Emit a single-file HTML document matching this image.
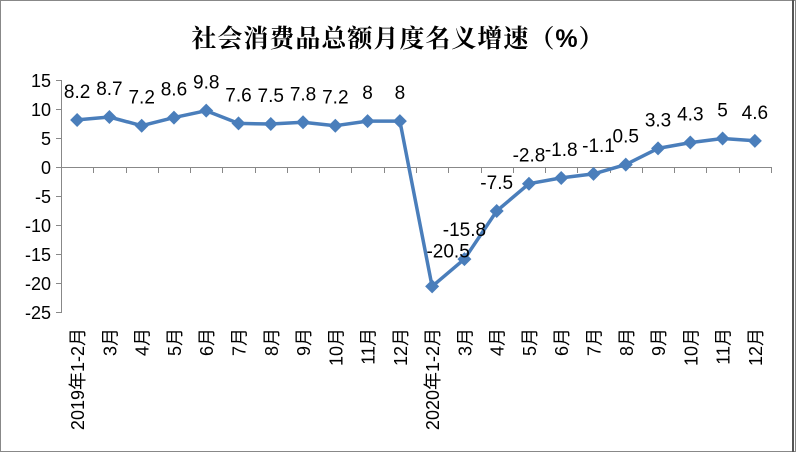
<!DOCTYPE html>
<html><head><meta charset="utf-8"><style>
html,body{margin:0;padding:0;background:#fff}
svg{display:block}
text{font-family:"Liberation Sans","Noto Sans CJK SC",sans-serif;fill:#000}
</style></head><body>
<svg width="796" height="452" viewBox="0 0 796 452" xmlns="http://www.w3.org/2000/svg">
<rect x="0.5" y="0.5" width="795" height="451" fill="#fff" stroke="#888" stroke-width="1"/>
<line x1="793" y1="0" x2="793" y2="452" stroke="#555" stroke-width="2"/>
<text x="398" y="47" text-anchor="middle" font-size="25" font-weight="bold" style="font-family:'Liberation Sans','Noto Serif CJK SC',serif" letter-spacing="1">社会消费品总额月度名义增速（%）</text>
<g stroke="#888" stroke-width="1">
<line x1="61.5" y1="80" x2="61.5" y2="313"/>
<line x1="56" y1="80.5" x2="61" y2="80.5"/>
<line x1="56" y1="109.5" x2="61" y2="109.5"/>
<line x1="56" y1="138.5" x2="61" y2="138.5"/>
<line x1="56" y1="167.5" x2="61" y2="167.5"/>
<line x1="56" y1="196.5" x2="61" y2="196.5"/>
<line x1="56" y1="225.5" x2="61" y2="225.5"/>
<line x1="56" y1="254.5" x2="61" y2="254.5"/>
<line x1="56" y1="283.5" x2="61" y2="283.5"/>
<line x1="56" y1="312.5" x2="61" y2="312.5"/>
<line x1="61" y1="167.5" x2="771" y2="167.5"/>
</g>
<g id="ticks" stroke="#888" stroke-width="1"></g>
<g font-size="18" text-anchor="end">
<text x="51" y="87">15</text><text x="51" y="116">10</text><text x="51" y="145">5</text><text x="51" y="174">0</text>
<text x="51" y="203">-5</text><text x="51" y="232">-10</text><text x="51" y="261">-15</text><text x="51" y="290">-20</text><text x="51" y="319">-25</text>
</g>
<g id="xl" font-size="18" text-anchor="end"></g>
<polyline id="ln" fill="none" stroke="#4a7ebb" stroke-width="3.5" stroke-linejoin="round"/>
<g id="mk" fill="#4a7ebb"></g>
<g id="dl" font-size="19" text-anchor="middle"></g>
</svg>
<script>
var v=[8.2,8.7,7.2,8.6,9.8,7.6,7.5,7.8,7.2,8,8,-20.5,-15.8,-7.5,-2.8,-1.8,-1.1,0.5,3.3,4.3,5,4.6];
var cats=["2019年1-2月","3月","4月","5月","6月","7月","8月","9月","10月","11月","12月","2020年1-2月","3月","4月","5月","6月","7月","8月","9月","10月","11月","12月"];
var lab=[[0,0],[0,0],[0,0],[0,0],[0,0],[0,0],[0,0],[0,0],[0,0],[0,0],[0,0],[16,-7],[0,-1],[0,0],[0,0],[0,0],[5,0],[0,0],[0,0],[0,0],[0,0],[0,0]];
var ns="http://www.w3.org/2000/svg",w=710/22,pts=[];
function el(t,a,p,tx){var e=document.createElementNS(ns,t);for(var k in a)e.setAttribute(k,a[k]);if(tx)e.textContent=tx;document.getElementById(p).appendChild(e);}
for(var i=0;i<=22;i++){var x=Math.round(61+i*w)+0.5;el("line",{x1:x,y1:167,x2:x,y2:173},"ticks");}
for(var i=0;i<22;i++){
var x=61+w*(i+0.5),y=167.5-v[i]*5.8;pts.push(x.toFixed(1)+","+y.toFixed(1));
el("path",{d:"M"+x+" "+(y-7)+"L"+(x+7)+" "+y+"L"+x+" "+(y+7)+"L"+(x-7)+" "+y+"Z"},"mk");
el("text",{x:x+lab[i][0],y:y-22+lab[i][1]},"dl",String(v[i]));
el("text",{x:0,y:0,transform:"translate("+(x+7)+",328) rotate(-90)"},"xl",cats[i]);
}
document.getElementById("ln").setAttribute("points",pts.join(" "));
</script>
</body></html>
